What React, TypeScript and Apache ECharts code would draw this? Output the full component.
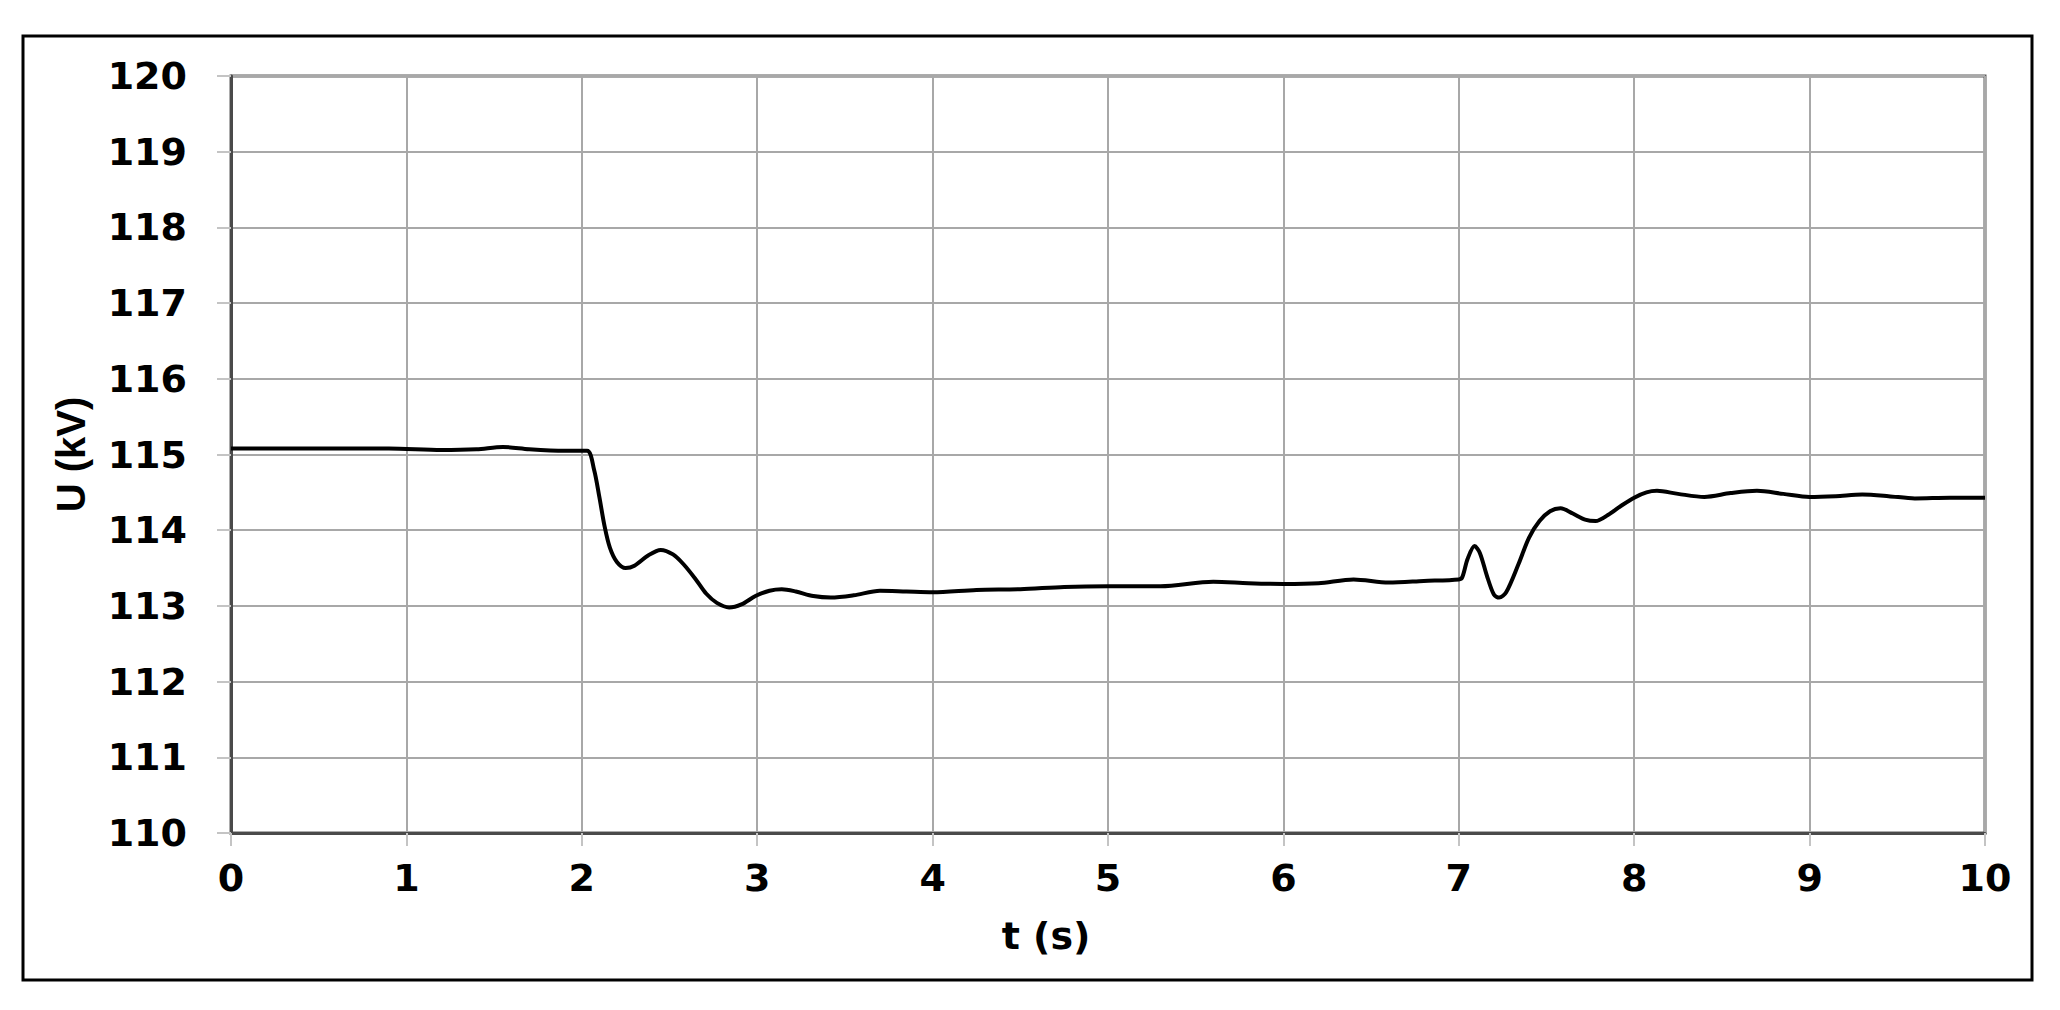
import React, { useEffect, useRef } from "react";
import * as echarts from "echarts";

const timeS: number[] = [
  0, 0.3, 0.6, 0.9, 1.2, 1.4, 1.55, 1.7, 1.9, 2.03, 2.07, 2.1, 2.13, 2.16, 2.2, 2.25,
  2.3, 2.38, 2.45, 2.52, 2.58, 2.65, 2.71, 2.77, 2.84, 2.91, 2.99, 3.07, 3.14, 3.22,
  3.32, 3.42, 3.55, 3.7, 3.85, 4.0, 4.25, 4.5, 4.75, 5.0, 5.3, 5.6, 5.8, 6.0, 6.2,
  6.4, 6.6, 6.8, 7.0, 7.02, 7.05, 7.09, 7.12, 7.16, 7.2, 7.23, 7.27, 7.34, 7.4, 7.46,
  7.52, 7.58, 7.65, 7.72, 7.78, 7.85, 7.93, 8.0, 8.07, 8.13, 8.25, 8.4, 8.55, 8.7,
  8.85, 9.0, 9.15, 9.3, 9.45, 9.6, 9.8, 10.0,
];

const voltageKV: number[] = [
  115.08, 115.08, 115.08, 115.08, 115.06, 115.07, 115.1, 115.07, 115.05, 115.05,
  114.8, 114.44, 114.05, 113.77, 113.58, 113.5, 113.53, 113.67, 113.74, 113.68,
  113.55, 113.35, 113.16, 113.04, 112.98, 113.02, 113.13, 113.2, 113.22, 113.19,
  113.13, 113.11, 113.14, 113.2, 113.19, 113.18, 113.21, 113.22, 113.25, 113.26,
  113.26, 113.32, 113.3, 113.29, 113.3, 113.35, 113.31, 113.33, 113.35, 113.38,
  113.62, 113.79, 113.7, 113.4, 113.15, 113.11, 113.18, 113.55, 113.9, 114.12,
  114.25, 114.29, 114.22, 114.14, 114.12, 114.2, 114.33, 114.43, 114.5, 114.52,
  114.48, 114.44, 114.49, 114.52, 114.48, 114.44, 114.45, 114.47, 114.45, 114.42,
  114.43, 114.43,
];

const xTicks = { min: 0, max: 10, interval: 1 };
const yTicks = { min: 110, max: 120, interval: 1 };

const xTitle = "t (s)";
const yTitle = "U (kV)";

export default function App() {
  const ref = useRef<HTMLDivElement>(null);

  useEffect(() => {
    if (!ref.current) return;
    const chart = echarts.init(ref.current, null, { renderer: "svg" });
    const labelFont = {
      fontFamily: "DejaVu Sans",
      fontWeight: "bold" as const,
      fontSize: 38,
      color: "#000",
    };
    chart.setOption({
      animation: false,
      backgroundColor: "#ffffff",
      grid: {
        left: 231,
        top: 76,
        right: 75,
        bottom: 177,
        show: true,
        borderColor: "#5a5a5a",
        borderWidth: 3,
        containLabel: false,
      },
      xAxis: {
        type: "value",
        min: xTicks.min,
        max: xTicks.max,
        interval: xTicks.interval,
        name: xTitle,
        nameLocation: "middle",
        nameGap: 84,
        nameTextStyle: { ...labelFont, padding: [0, 124, 0, 0] },
        axisLine: { show: true, lineStyle: { color: "#4a4a4a", width: 3 } },
        axisTick: { show: true, length: 13, lineStyle: { color: "#c4c4c4", width: 2 } },
        axisLabel: { ...labelFont, margin: 26 },
        splitLine: { show: true, lineStyle: { color: "#a8a8a8", width: 2 } },
      },
      yAxis: {
        type: "value",
        min: yTicks.min,
        max: yTicks.max,
        interval: yTicks.interval,
        name: yTitle,
        nameLocation: "middle",
        nameGap: 140,
        nameTextStyle: {
          fontFamily: "Liberation Sans",
          fontWeight: "bold",
          fontSize: 40,
          color: "#000",
        },
        axisLine: { show: true, lineStyle: { color: "#4a4a4a", width: 3 } },
        axisTick: { show: true, length: 14, lineStyle: { color: "#c4c4c4", width: 2 } },
        axisLabel: { ...labelFont, margin: 44 },
        splitLine: { show: true, lineStyle: { color: "#a8a8a8", width: 2 } },
      },
      graphic: [
        {
          type: "rect",
          shape: { x: 23, y: 36, width: 2009, height: 944 },
          style: { fill: "none", stroke: "#000", lineWidth: 3 },
          silent: true,
          z: 100,
        },
      ],
      series: [
        {
          type: "line",
          data: timeS.map((t, i) => [t, voltageKV[i]]),
          showSymbol: false,
          smooth: 0.3,
          lineStyle: { color: "#000", width: 4 },
          z: 10,
        },
      ],
    });
    return () => chart.dispose();
  }, []);

  return (
    <div
      ref={ref}
      style={{ position: "fixed", left: 0, top: 0, width: 2060, height: 1010 }}
    />
  );
}
